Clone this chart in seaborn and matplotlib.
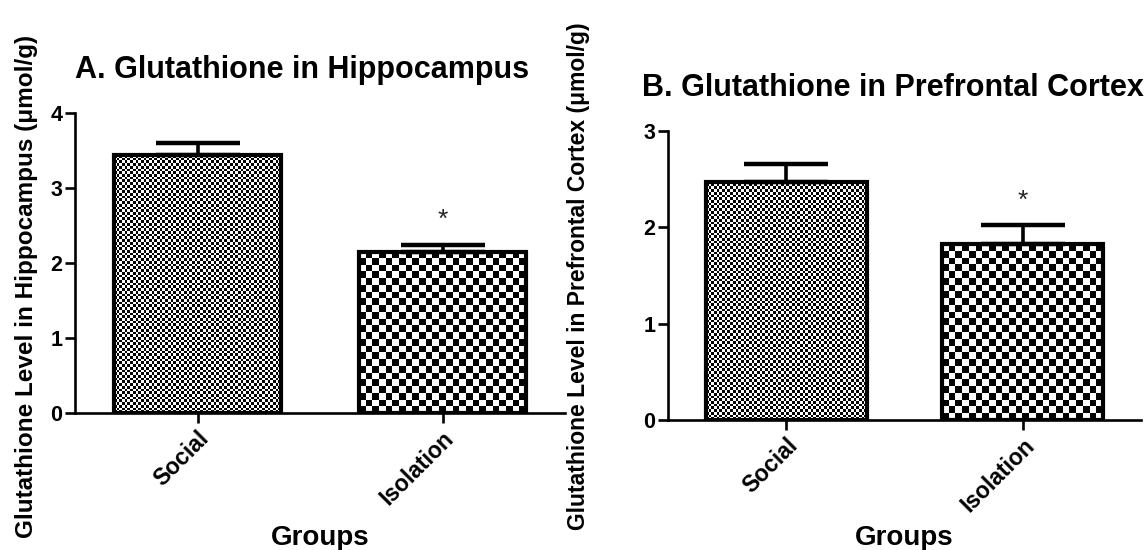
import numpy as np
import pandas as pd
import matplotlib
matplotlib.use("Agg")
import matplotlib.pyplot as plt
import seaborn as sns

# ---- data ----
groups = ["Social", "Isolation"]
hippo_mean = [3.43, 2.15]
hippo_sem = [0.16, 0.09]
pfc_mean = [2.47, 1.82]
pfc_sem = [0.18, 0.20]
hippo_sig = ["", "*"]
pfc_sig = ["", "*"]
titles = ["A. Glutathione in Hippocampus", "B. Glutathione in Prefrontal Cortex"]
ylabels = ["Glutathione Level in Hippocampus (\u03bcmol/g)",
           "Glutathione Level in Prefrontal Cortex (\u03bcmol/g)"]
yticks_a = [0, 1, 2, 3, 4]
yticks_b = [0, 1, 2, 3]

sns.set_theme(style="ticks")
plt.rcParams["font.family"] = ["Liberation Sans", "DejaVu Sans"]
plt.rcParams["font.weight"] = "bold"

W, H = 1148, 550
fig = plt.figure(figsize=(W / 100, H / 100), dpi=100)

def px_axes(x0, x1, ytop, ybot):
    return fig.add_axes([x0 / W, 1 - ybot / H, (x1 - x0) / W, (ybot - ytop) / H])

axA = px_axes(75, 565, 112.7, 413)
axB = px_axes(668, 1141, 130.7, 420)

cell_px = [2.7, 6.7]  # checker cell size (pixels) for Social / Isolation

def checker_fill(ax, patch, cell):
    x0, y0 = patch.get_x(), patch.get_y()
    w, h = patch.get_width(), patch.get_height()
    p0 = ax.transData.transform((x0, y0))
    p1 = ax.transData.transform((x0 + w, y0 + h))
    nx = max(1, int(round(abs(p1[0] - p0[0]) / cell)))
    ny = max(1, int(round(abs(p1[1] - p0[1]) / cell)))
    ii, jj = np.indices((ny, nx))
    img = (ii + jj) % 2
    im = ax.imshow(img, extent=(x0, x0 + w, y0, y0 + h), aspect="auto",
                   cmap="gray", interpolation="nearest", origin="lower",
                   zorder=2, vmin=0, vmax=1)
    im.set_clip_path(patch)

def panel(ax, means, sems, sig, yticks, title, ylabel, title_xy, ylab_xy, ylab_size):
    df = pd.DataFrame({"group": groups, "value": means})
    sns.barplot(data=df, x="group", y="value", ax=ax, width=0.68,
                color="white", edgecolor="black", linewidth=3,
                errorbar=None, zorder=3)
    ax.set_xlim(-0.5, 1.5)
    ax.set_ylim(0, yticks[-1])
    ax.set_yticks(yticks)
    ax.set_xticks(range(len(groups)))
    for p, c in zip(ax.patches, cell_px):
        p.set_facecolor("none")
        p.set_zorder(3)
        checker_fill(ax, p, c)
    xs = np.arange(len(groups))
    ax.errorbar(xs, means, yerr=[np.zeros(len(means)), sems], fmt="none",
                ecolor="black", elinewidth=2.6, capsize=30, capthick=3.2,
                zorder=4)
    for x, m, s, t in zip(xs, means, sems, sig):
        if t:
            ax.annotate(t, (x, m + s), xytext=(0, 9), textcoords="offset points",
                        ha="center", va="bottom", fontsize=19,
                        fontweight="normal")
    sns.despine(ax=ax)
    for side in ["left", "bottom"]:
        ax.spines[side].set_linewidth(1.9)
        ax.spines[side].set_color("black")
    ax.tick_params(axis="y", length=7, width=1.9, labelsize=15.5, pad=2,
                   color="black", labelcolor="black")
    ax.tick_params(axis="x", length=7, width=1.9, labelsize=16.5, pad=3,
                   color="black", labelcolor="black")
    for lab in ax.get_xticklabels():
        lab.set_rotation(45)
        lab.set_ha("right")
        lab.set_va("top")
        lab.set_rotation_mode("anchor")
        lab.set_fontweight("bold")
    for lab in ax.get_yticklabels():
        lab.set_fontweight("bold")
    ax.set_ylabel("")
    ax.set_xlabel("Groups", fontsize=20, fontweight="bold", color="black")
    fig.text(title_xy[0] / W, 1 - title_xy[1] / H, title, fontsize=22,
             fontweight="bold", ha="left", va="baseline", color="black")
    fig.text(ylab_xy[0] / W, 1 - ylab_xy[1] / H, ylabel, fontsize=ylab_size,
             fontweight="bold", rotation=90, ha="center", va="center",
             color="black")

panel(axA, hippo_mean, hippo_sem, hippo_sig, yticks_a, titles[0], ylabels[0],
      (75, 78), (27, 286), 17.5)
panel(axB, pfc_mean, pfc_sem, pfc_sig, yticks_b, titles[1], ylabels[1],
      (642, 96), (579, 276), 16.5)

axA.xaxis.label.set_va("baseline")
axA.xaxis.set_label_coords(0.5, (413 - 545) / (413 - 112.7))
axB.xaxis.label.set_va("baseline")
axB.xaxis.set_label_coords(0.5, (420 - 545) / (420 - 130.7))

fig.savefig("out.png", dpi=100, facecolor="white")
